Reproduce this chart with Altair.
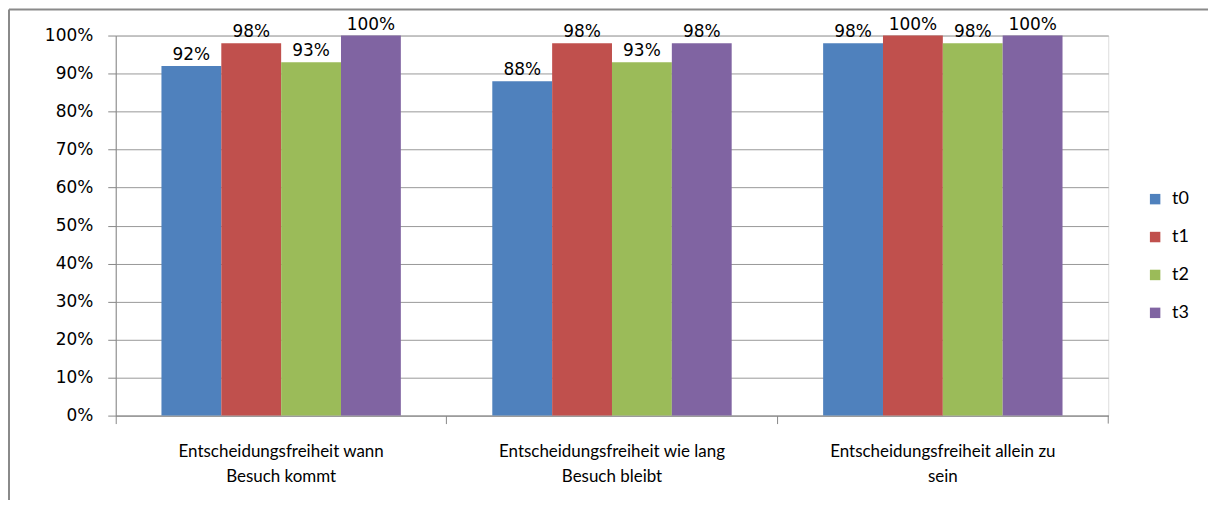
import altair as alt
import pandas as pd

categories = [
    "Entscheidungsfreiheit wann Besuch kommt",
    "Entscheidungsfreiheit wie lang Besuch bleibt",
    "Entscheidungsfreiheit allein zu sein",
]
label_lines = {
    "Entscheidungsfreiheit wann Besuch kommt": ["Entscheidungsfreiheit wann", "Besuch kommt"],
    "Entscheidungsfreiheit wie lang Besuch bleibt": ["Entscheidungsfreiheit wie lang", "Besuch bleibt"],
    "Entscheidungsfreiheit allein zu sein": ["Entscheidungsfreiheit allein zu", "sein"],
}
series = ["t0", "t1", "t2", "t3"]
t0 = [0.92, 0.88, 0.98]
t1 = [0.98, 0.98, 1.00]
t2 = [0.93, 0.93, 0.98]
t3 = [1.00, 0.98, 1.00]
colors = ["#4F81BD", "#C0504D", "#9BBB59", "#8064A2"]
y_ticks = [0, 0.1, 0.2, 0.3, 0.4, 0.5, 0.6, 0.7, 0.8, 0.9, 1.0]

rows = []
for s, vals in zip(series, [t0, t1, t2, t3]):
    for c, v in zip(categories, vals):
        rows.append({"cat": c, "serie": s, "value": v})
df = pd.DataFrame(rows)

expr_parts = []
for c in categories:
    l1, l2 = label_lines[c]
    expr_parts.append(f"datum.label == '{c}' ? ['{l1}', '{l2}']")
label_expr = " : ".join(expr_parts) + " : datum.label"

W, H = 995, 381

x_axis = alt.Axis(
    title=None,
    labelAngle=0,
    labelExpr=label_expr,
    labelFont="Lato",
    labelFontSize=17,
    labelColor="black",
    labelPadding=20,
    labelLineHeight=25,
    labelLimit=500,
    domainColor="#888888",
    tickColor="#888888",
    tickSize=8,
    bandPosition=0,
    grid=False,
)
y_axis = alt.Axis(
    title=None,
    format=".0%",
    values=y_ticks,
    labelFont="DejaVu Sans",
    labelFontSize=17,
    labelColor="black",
    labelPadding=15,
    labelOverlap=False,
    tickSize=8,
    tickColor="#888888",
    domainColor="#888888",
    gridColor="#999999",
)

x_enc = alt.X("cat:N", sort=categories,
              scale=alt.Scale(paddingInner=0, paddingOuter=0), axis=x_axis)
xoff = alt.XOffset("serie:N", sort=series,
                   scale=alt.Scale(paddingInner=0, paddingOuter=0.764))
y_enc = alt.Y("value:Q", scale=alt.Scale(domain=[0, 1]), axis=y_axis)

bars = alt.Chart(df).mark_bar().encode(
    x=x_enc,
    xOffset=xoff,
    y=y_enc,
    color=alt.Color(
        "serie:N",
        sort=series,
        scale=alt.Scale(domain=series, range=colors),
        legend=alt.Legend(
            title=None,
            orient="none",
            legendX=1033,
            legendY=155,
            symbolType="square",
            symbolSize=110,
            symbolStrokeWidth=0,
            labelFont="Lato",
            labelFontSize=18,
            labelColor="black",
            rowPadding=20,
            labelOffset=8,
        ),
    ),
)

texts = alt.Chart(df).mark_text(
    baseline="bottom", dy=-2, font="DejaVu Sans", fontSize=17, color="black"
).encode(
    x=x_enc,
    xOffset=xoff,
    y=y_enc,
    text=alt.Text("value:Q", format=".0%"),
)

one = pd.DataFrame({"a": [0]})
last_tick = alt.Chart(one).mark_rule(color="#888888", strokeWidth=1).encode(
    x=alt.value(W), y=alt.value(H), y2=alt.value(H + 8)
)
border_left = alt.Chart(one).mark_rule(color="#8a8a8a", strokeWidth=2).encode(
    x=alt.value(-107), y=alt.value(-26), y2=alt.value(H + 120)
)
border_top = alt.Chart(one).mark_rule(color="#8a8a8a", strokeWidth=2).encode(
    y=alt.value(-26), x=alt.value(-107), x2=alt.value(W + 120)
)

chart = (
    alt.layer(bars, texts, last_tick, border_left, border_top)
    .properties(
        width=W,
        height=H,
        autosize=alt.AutoSizeParams(type="none"),
        padding={"left": 108, "top": 27, "right": 100, "bottom": 84},
    )
    .configure_view(stroke=None)
    .configure(background="white")
)

chart.save("out.html", embed_options={"renderer": "svg", "actions": False})
